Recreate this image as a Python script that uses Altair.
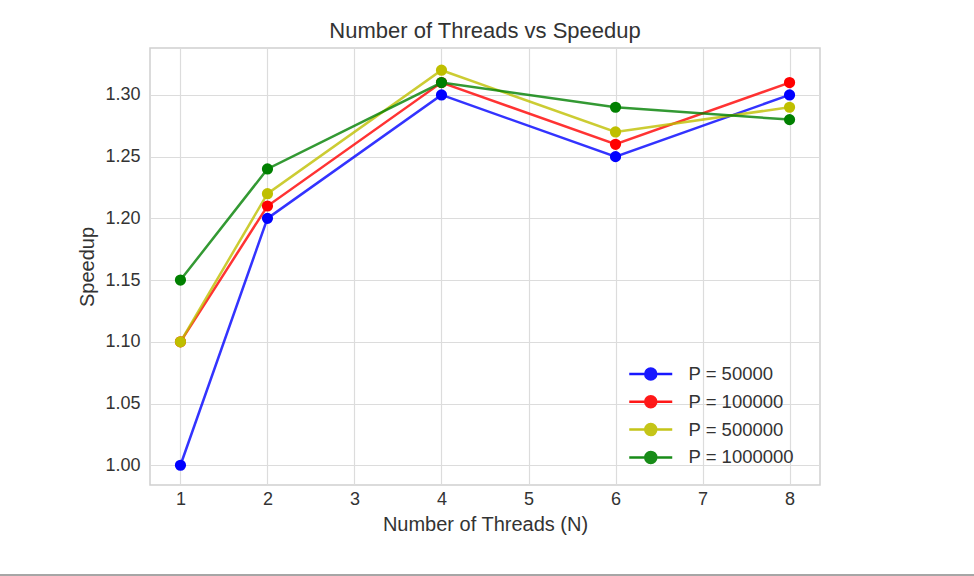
import altair as alt
import pandas as pd

threads = [1, 2, 4, 6, 8]
series_names = ["P = 50000", "P = 100000", "P = 500000", "P = 1000000"]
speedup_50000 = [1.00, 1.20, 1.30, 1.25, 1.30]
speedup_100000 = [1.10, 1.21, 1.31, 1.26, 1.31]
speedup_500000 = [1.10, 1.22, 1.32, 1.27, 1.29]
speedup_1000000 = [1.15, 1.24, 1.31, 1.29, 1.28]
colors = ["#0000ff", "#ff0000", "#bfbf00", "#008000"]
x_ticks = [1, 2, 3, 4, 5, 6, 7, 8]
y_ticks = [1.00, 1.05, 1.10, 1.15, 1.20, 1.25, 1.30]

rows = []
for name, vals in zip(series_names, [speedup_50000, speedup_100000, speedup_500000, speedup_1000000]):
    for t, v in zip(threads, vals):
        rows.append({"threads": t, "speedup": v, "series": name})
df = pd.DataFrame(rows)

FONT = "Liberation Sans"
TXT = "#333333"
scale = alt.Scale(domain=series_names, range=colors)

x = alt.X("threads:Q", scale=alt.Scale(domain=[0.65, 8.35], nice=False, zero=False),
          axis=alt.Axis(values=x_ticks, format="d", title="Number of Threads (N)",
                        labelPadding=5, titlePadding=6))
y = alt.Y("speedup:Q", scale=alt.Scale(domain=[0.984, 1.338], nice=False, zero=False),
          axis=alt.Axis(values=y_ticks, format=".2f", title="Speedup",
                        labelPadding=10, titlePadding=7))

legend = alt.Legend(
    title=None, orient="none", legendX=478, legendY=314,
    symbolType="M-1,0H3M0.488,0A0.512,0.512,0,1,0,1.512,0A0.512,0.512,0,1,0,0.488,0Z",
    symbolSize=462, symbolStrokeWidth=2.5, labelFontSize=18.5, labelColor=TXT,
    labelFont=FONT, labelOffset=36.5, rowPadding=4.8, symbolOpacity=0.9)

base = alt.Chart(df)
lines = base.mark_line(strokeWidth=2.5, opacity=0.8).encode(
    x=x, y=y, color=alt.Color("series:N", scale=scale, legend=legend),
    detail="series:N")

points = base.mark_circle(size=85, opacity=1).encode(
    x=x, y=y,
    fill=alt.Fill("series:N", scale=scale, legend=legend),
    stroke=alt.Stroke("series:N", scale=scale, legend=legend))

border = alt.Chart(pd.DataFrame({"a": [0]})).mark_rule(color="#a6a6a6", strokeWidth=2).encode(
    x=alt.value(-150), x2=alt.value(824), y=alt.value(527))

chart = alt.layer(lines, points, border).properties(
    width=670, height=437,
    title=alt.Title("Number of Threads vs Speedup", fontSize=22, font=FONT,
                    color=TXT, fontWeight="normal", offset=5),
    autosize=alt.AutoSizeParams(type="none"),
    padding={"left": 150, "top": 48, "right": 154, "bottom": 91},
).configure_view(
    stroke="#d0d0d0", strokeWidth=1.5
).configure_axis(
    grid=True, gridColor="#dcdcdc", gridWidth=1.2, domain=False, ticks=False,
    labelFont=FONT, titleFont=FONT, labelFontSize=18, titleFontSize=20,
    labelColor=TXT, titleColor=TXT, titleFontWeight="normal"
)

chart.save("out.html", embed_options={"renderer": "svg", "actions": False})
